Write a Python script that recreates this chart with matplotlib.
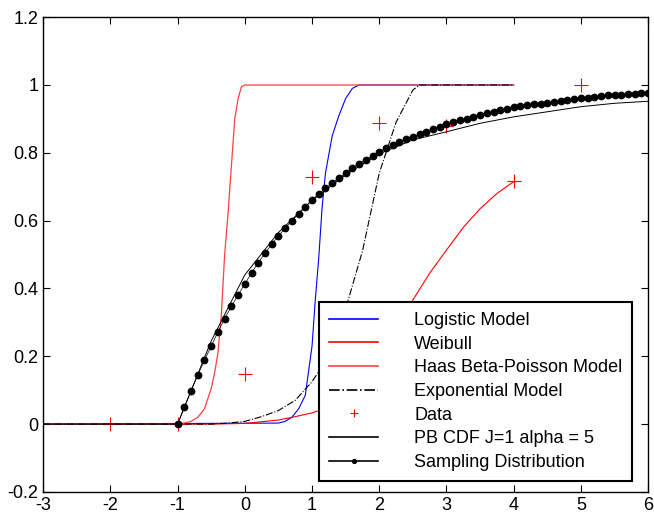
import numpy as np
import matplotlib.pyplot as plt

plt.rcParams['font.family'] = ['Liberation Sans', 'DejaVu Sans']

# Logistic model (blue)
logit_x = [-3, 0.5, 0.6, 0.7, 0.8, 0.9, 1.0, 1.05, 1.1, 1.15, 1.2, 1.3, 1.4, 1.5, 1.6, 1.7, 4.0]
logit_y = [0, 0.003, 0.008, 0.02, 0.045, 0.085, 0.23, 0.37, 0.49, 0.64, 0.74, 0.85, 0.91, 0.96, 0.99, 1.0, 1.0]

# Weibull (red)
weib_x = [-3, -0.5, 0, 0.25, 0.5, 0.75, 1.0, 1.25, 1.5, 1.75, 2.0, 2.25, 2.5, 2.75, 3.0, 3.25, 3.5, 3.75, 4.0]
weib_y = [0, 0, 0.002, 0.007, 0.012, 0.022, 0.033, 0.05, 0.08, 0.13, 0.2, 0.28, 0.366, 0.445, 0.513, 0.58, 0.635, 0.68, 0.715]

# Haas Beta-Poisson model (light red)
haas_x = [-3, -1.0, -0.9, -0.8, -0.7, -0.6, -0.5, -0.45, -0.4, -0.35, -0.3, -0.25, -0.2, -0.15, -0.1, -0.05, 0, 4.0]
haas_y = [0, 0, 0.003, 0.008, 0.02, 0.045, 0.105, 0.15, 0.21, 0.32, 0.50, 0.62, 0.76, 0.90, 0.96, 0.995, 1.0, 1.0]

# Exponential model (black dash-dot)
expo_x = [-3, -0.5, -0.25, 0, 0.25, 0.5, 0.75, 1.0, 1.25, 1.5, 1.75, 2.0, 2.25, 2.5, 2.6, 4.0]
expo_y = [0, 0, 0.003, 0.008, 0.022, 0.04, 0.07, 0.125, 0.2, 0.34, 0.51, 0.74, 0.89, 0.985, 1.0, 1.0]

# observed data
data_x = [-2, -1, 0, 1, 2, 3, 4, 5]
data_y = [0, 0, 0.148, 0.728, 0.888, 0.88, 0.716, 1.0]

# PB CDF J=1 alpha=5
pb_x = [-3, -1, -0.5, 0, 0.5, 1.0, 1.5, 2.0, 2.5, 3.0, 3.5, 4.0, 4.5, 5.0, 5.5, 6.0]
pb_y = [0, 0, 0.245, 0.44, 0.565, 0.66, 0.735, 0.797, 0.838, 0.862, 0.887, 0.906, 0.921, 0.936, 0.946, 0.952]

# sampling distribution, x = -1 ... 6 step 0.1
samp_x = np.round(np.arange(-1, 6.01, 0.1), 1)
samp_y = [0.000, 0.050, 0.098, 0.145, 0.188, 0.230, 0.272, 0.311, 0.347, 0.381,
          0.413, 0.446, 0.476, 0.504, 0.530, 0.555, 0.577, 0.599, 0.620, 0.640,
          0.661, 0.679, 0.695, 0.711, 0.726, 0.740, 0.755, 0.768, 0.780, 0.791,
          0.803, 0.814, 0.823, 0.833, 0.840, 0.848, 0.855, 0.862, 0.869, 0.876,
          0.884, 0.890, 0.896, 0.901, 0.906, 0.912, 0.917, 0.921, 0.925, 0.930,
          0.934, 0.937, 0.940, 0.943, 0.945, 0.947, 0.950, 0.953, 0.955, 0.958,
          0.961, 0.963, 0.965, 0.967, 0.969, 0.969, 0.971, 0.972, 0.973, 0.975,
          0.977]

xticks = [-3, -2, -1, 0, 1, 2, 3, 4, 5, 6]
yticks = [-0.2, 0, 0.2, 0.4, 0.6, 0.8, 1.0, 1.2]
ytick_labels = ['-0.2', '0', '0.2', '0.4', '0.6', '0.8', '1', '1.2']

fig = plt.figure(figsize=(6.54, 5.20), dpi=100)
ax = fig.add_axes([0.066, 0.054, 0.925, 0.913])

ax.plot(logit_x, logit_y, color='blue', lw=0.8, label='Logistic Model')
ax.plot(weib_x, weib_y, color='red', lw=0.8, label='Weibull')
ax.plot(haas_x, haas_y, color='#ff4040', lw=0.9, label='Haas Beta-Poisson Model')
ax.plot(expo_x, expo_y, color='black', lw=0.8, ls='-.', label='Exponential Model')
ax.plot(data_x, data_y, ls='none', marker='+', ms=10, mew=0.8, color='red', label='Data')
ax.plot(pb_x, pb_y, color='black', lw=0.7, label='PB CDF J=1 alpha = 5')
ax.plot(samp_x, samp_y, color='black', lw=0.5, marker='o', ms=4.6, label='Sampling Distribution')

ax.set_xlim(-3, 6)
ax.set_ylim(-0.2, 1.2)
ax.set_xticks(xticks)
ax.set_xticklabels([str(v) for v in xticks])
ax.set_yticks(yticks)
ax.set_yticklabels(ytick_labels)
ax.tick_params(direction='in', top=True, right=True, labelsize=13, length=5, width=0.8)
for s in ax.spines.values():
    s.set_linewidth(1.0)

leg = ax.legend(loc='lower right', bbox_to_anchor=(0.974, 0.023), fontsize=13,
                handlelength=2.7, handletextpad=2.0, labelspacing=0.37,
                fancybox=False, framealpha=1, edgecolor='black',
                borderpad=0.55, borderaxespad=0, markerscale=0.6)
leg.get_frame().set_linewidth(1.5)
for ln in leg.get_lines():
    ln.set_linewidth(1.2)

fig.savefig('out.png', dpi=100)
